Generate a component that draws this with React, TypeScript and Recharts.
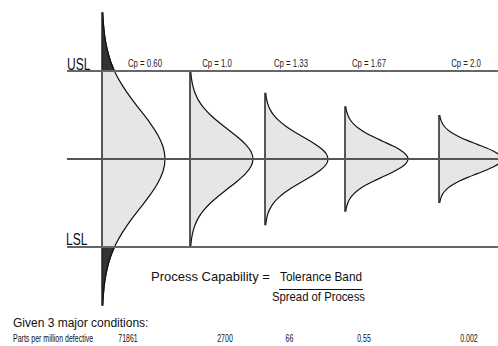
import React from 'react';
import { ComposedChart, Area, XAxis, YAxis, ReferenceLine } from 'recharts';

// Process capability indices for each distribution
const cpValues = [0.6, 1.0, 1.33, 1.67, 2.0];
const cpLabels = ['Cp = 0.60', 'Cp = 1.0', 'Cp = 1.33', 'Cp = 1.67', 'Cp = 2.0'];
const ppmDefective = ['71861', '2700', '66', '0.55', '0.002'];
// location (x units) of each distribution's baseline
const curveBase = [102, 190, 265, 345, 439];
// peak height of every bell (x units)
const peakWidth = 63;
const zSteps = [0, 0.25, 0.5, 0.75, 1, 1.25, 1.5, 1.75, 2, 2.25, 2.5, 2.75, 3];
const density = [1, 0.969, 0.882, 0.755, 0.607, 0.458, 0.325, 0.216, 0.135, 0.08, 0.044, 0.023, 0.011];
// tail beyond the spec limits for Cp = 0.60
const tailZ = [1.8, 2, 2.25, 2.5, 2.75, 3];
const tailDensity = [0.198, 0.135, 0.08, 0.044, 0.023, 0.011];
// spec limits (y units)
const USL = 3;
const LSL = -3;
const MEAN = 0;

const rows: any[] = [];
cpValues.forEach((cp, k) => {
  const sigma = 1 / cp;
  const key = 'c' + k;
  for (let i = zSteps.length - 1; i >= 1; i--) {
    rows.push({ y: -zSteps[i] * sigma, [key]: curveBase[k] + peakWidth * density[i] });
  }
  for (let i = 0; i < zSteps.length; i++) {
    rows.push({ y: zSteps[i] * sigma, [key]: curveBase[k] + peakWidth * density[i] });
  }
});
{
  const sigma = 1 / cpValues[0];
  tailZ.forEach((z, i) => rows.push({ y: z * sigma, tTop: curveBase[0] + peakWidth * tailDensity[i] }));
  tailZ.forEach((z, i) => rows.push({ y: -z * sigma, tBot: curveBase[0] + peakWidth * tailDensity[i] }));
}

const W = 498;
const H = 346;
const yDomain: [number, number] = [-6.375, 5.4205];

const cpLabelX = [145, 217, 291, 369, 466];
const ppmX = [128, 225, 289.5, 364, 469];

const sans = "'Liberation Sans', Arial, sans-serif";

const Squeezed = ({ x, y, sx, size, anchor = 'start', children, fill = '#111' }: any) => (
  <text
    transform={`translate(${x},${y}) scale(${sx},1)`}
    x={0}
    y={0}
    textAnchor={anchor}
    fontFamily={sans}
    fontSize={size}
    fill={fill}
  >
    {children}
  </text>
);

export default function App() {
  return (
    <div style={{ position: 'absolute', left: 0, top: 0, width: W, height: H, background: '#fff' }}>
      <ComposedChart
        width={W}
        height={H}
        data={rows}
        layout="vertical"
        margin={{ top: 0, right: 0, bottom: 0, left: 0 }}
      >
        <XAxis type="number" domain={[0, W]} hide allowDataOverflow />
        <YAxis type="number" dataKey="y" domain={yDomain} hide allowDataOverflow reversed />
        {cpValues.map((cp, k) => (
          <Area
            key={'a' + k}
            dataKey={'c' + k}
            type="monotone"
            baseValue={curveBase[k]}
            connectNulls
            fill="#e6e6e6"
            fillOpacity={1}
            stroke="#111"
            strokeWidth={1.2}
            isAnimationActive={false}
            dot={false}
            activeDot={false}
          />
        ))}
        <Area dataKey="tTop" type="monotone" baseValue={curveBase[0]} connectNulls fill="#333" fillOpacity={1}
          stroke="#111" strokeWidth={1.2} isAnimationActive={false} dot={false} activeDot={false} />
        <Area dataKey="tBot" type="monotone" baseValue={curveBase[0]} connectNulls fill="#333" fillOpacity={1}
          stroke="#111" strokeWidth={1.2} isAnimationActive={false} dot={false} activeDot={false} />
        {cpValues.map((cp, k) => (
          <ReferenceLine
            key={'v' + k}
            segment={[{ x: curveBase[k], y: -3 / cp }, { x: curveBase[k], y: 3 / cp }]}
            stroke="#222"
            strokeWidth={1.5}
            ifOverflow="visible"
          />
        ))}
        <ReferenceLine segment={[{ x: 67, y: USL }, { x: W, y: USL }]} stroke="#666" strokeWidth={1.8} ifOverflow="visible" />
        <ReferenceLine segment={[{ x: 67, y: LSL }, { x: W, y: LSL }]} stroke="#666" strokeWidth={1.8} ifOverflow="visible" />
        <ReferenceLine segment={[{ x: 67, y: MEAN }, { x: W, y: MEAN }]} stroke="#555" strokeWidth={2} ifOverflow="visible" />
        <g>
          <Squeezed x={67} y={70} sx={0.75} size={16}>USL</Squeezed>
          <Squeezed x={66} y={245} sx={0.75} size={16}>LSL</Squeezed>
          {cpLabels.map((t, k) => (
            <Squeezed key={'cl' + k} x={cpLabelX[k]} y={67} sx={0.71} size={11} anchor="middle" fill="#222">{t}</Squeezed>
          ))}
          <text x={151} y={281} fontFamily={sans} fontSize={13} fill="#111">Process Capability =</text>
          <Squeezed x={280} y={281} sx={0.91} size={13}>Tolerance Band</Squeezed>
          <line x1={279} x2={363} y1={289.5} y2={289.5} stroke="#111" strokeWidth={1} />
          <Squeezed x={272} y={301} sx={0.87} size={13}>Spread of Process</Squeezed>
          <text x={13} y={327} fontFamily={sans} fontSize={12} fill="#111">Given 3 major conditions:</text>
          <Squeezed x={13} y={342} sx={0.7} size={10}>Parts per million defective</Squeezed>
          {ppmDefective.map((t, k) => (
            <Squeezed key={'pp' + k} x={ppmX[k]} y={342} sx={0.7} size={10} anchor="middle">{t}</Squeezed>
          ))}
        </g>
      </ComposedChart>
    </div>
  );
}
